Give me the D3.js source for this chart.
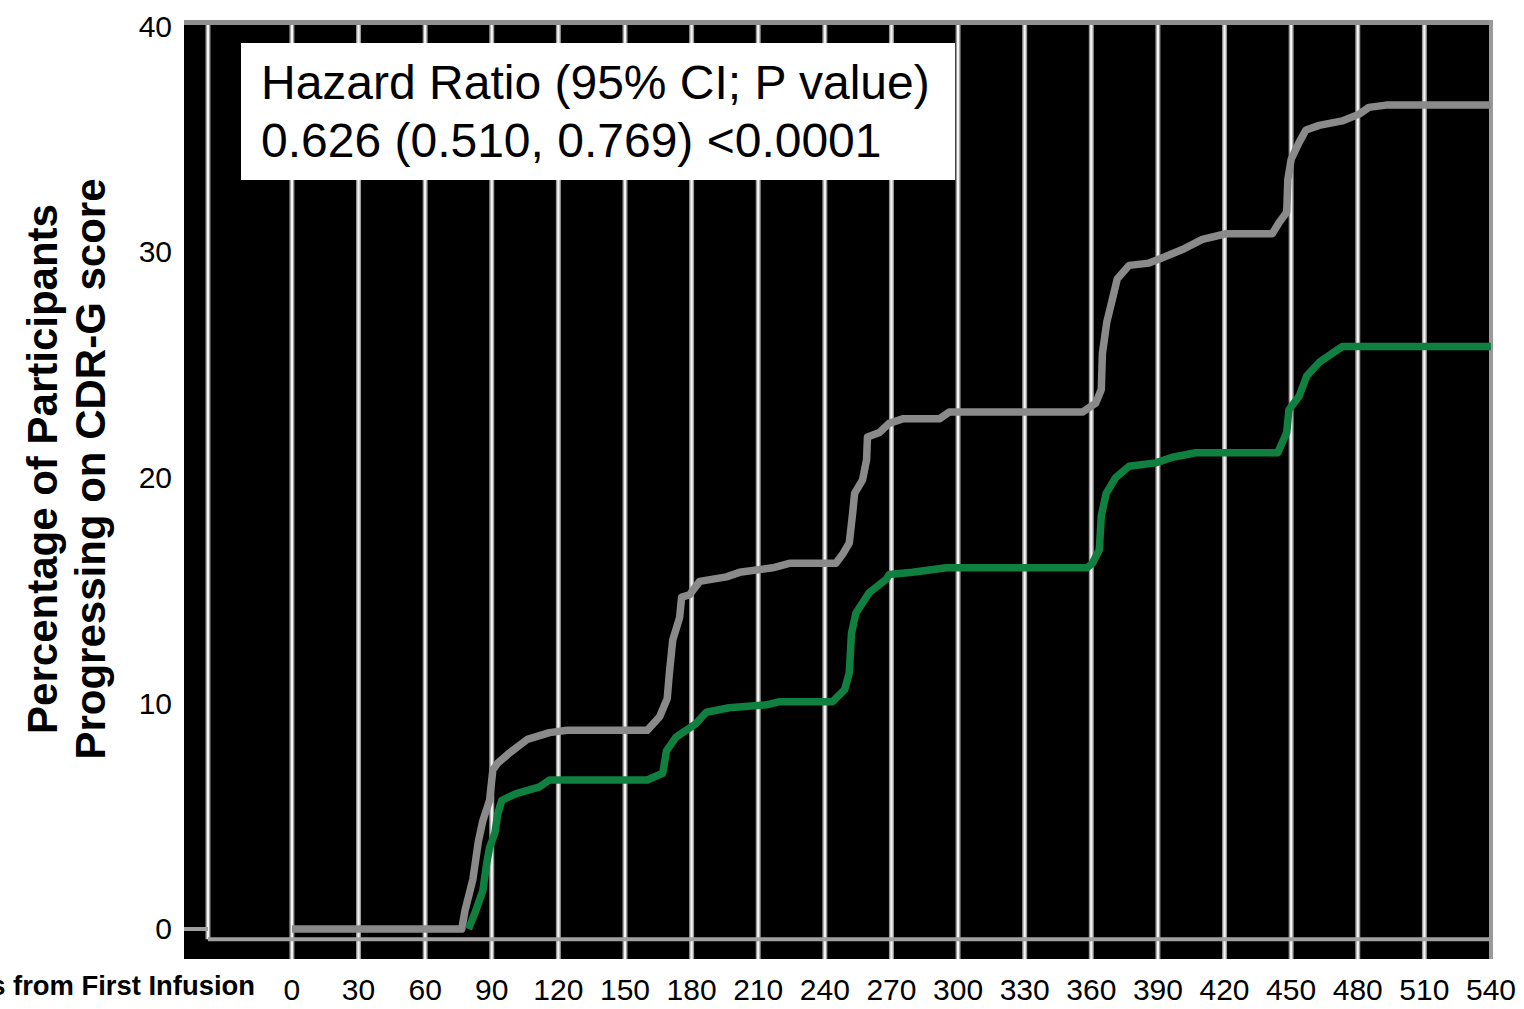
<!DOCTYPE html>
<html>
<head>
<meta charset="utf-8">
<script src="https://cdn.jsdelivr.net/npm/d3@7/dist/d3.min.js"></script>
<style>
  html, body { margin: 0; padding: 0; background: #fff; overflow: hidden; }
  svg { display: block; font-family: "Liberation Sans", Arial, sans-serif; }
</style>
</head>
<body>
<svg id="chart" width="1524" height="1009"></svg>
<script>
// Cumulative % progressing, placebo (grey) and treated (green)
const placeboDays = [0,76.5,78,81.5,84,86,89,90.5,92.7,98,106,116,124,160,165.6,169,170,171.5,174.6,175.5,179,183.6,195.7,201.6,216.5,224,245,248,251,252.5,253.4,257,258.8,259.2,264.6,269,275,291.6,296,356,362,364.5,365,367,369.5,371.7,377,386,393.7,401,410,420.7,441.5,444.6,448,448.5,450,453.6,456.7,462.6,473,480.6,485,492.7,540];
const placeboPct  = [0,0,0.84,2.2,3.9,4.8,5.7,7.05,7.35,7.8,8.4,8.7,8.8,8.8,9.4,10.2,11.35,12.8,13.8,14.7,14.8,15.4,15.6,15.8,16.0,16.2,16.2,16.6,17.1,18.4,19.3,19.9,20.8,21.8,22.0,22.4,22.6,22.6,22.9,22.9,23.3,23.9,25.5,26.9,27.9,28.8,29.4,29.5,29.8,30.1,30.55,30.8,30.8,31.3,31.75,33.2,34.1,34.85,35.4,35.6,35.8,36.1,36.4,36.5,36.5];

const treatedDays = [79.5,82.4,86,87.7,89,91.4,92.7,94.5,101,111.6,116,160,167,168.7,173,182,186.6,197,213.7,219.6,243.5,248.9,251,252,254,260,267.7,269,279.5,294.7,358,360.5,363.6,364.5,366.7,371,377,389,396.5,407,444,448,449,453.6,457,462.6,468.5,473,540];
const treatedPct  = [0,0.7,1.7,2.9,3.6,4.25,5.1,5.7,6.0,6.3,6.6,6.6,6.9,7.9,8.5,9.1,9.6,9.8,9.93,10.07,10.07,10.6,11.35,13.1,14.0,14.9,15.5,15.7,15.8,16.0,16.0,16.2,16.8,18.3,19.3,20.0,20.5,20.65,20.9,21.1,21.1,22.0,23.0,23.6,24.5,25.1,25.5,25.8,25.8];

const xTicks = [0,30,60,90,120,150,180,210,240,270,300,330,360,390,420,450,480,510,540];
const yTicks = [0,10,20,30,40];

const hazardLines = ["Hazard Ratio (95% CI; P value)", "0.626 (0.510, 0.769) <0.0001"];
const yTitleLines = ["Percentage of Participants", "Progressing on CDR-G score"];
const xTitle = "Days from First Infusion";

const svg = d3.select("#chart");

const xMin = -48.6, xMax = 540, yMin = -1.33, yMax = 40.27;
const x = d3.scaleLinear().domain([xMin, xMax]).range([184, 1491]);
const y = d3.scaleLinear().domain([yMin, yMax]).range([959, 20]);

// black panel
svg.append("rect")
  .attr("x", x(xMin)).attr("y", y(yMax))
  .attr("width", x(xMax) - x(xMin) + 1).attr("height", y(yMin) - y(yMax))
  .attr("fill", "#000");

// vertical grid lines: grey edge with light centre
const gridX = [-37.8].concat(xTicks.slice(0, -1));
const grid = svg.append("g");
gridX.forEach(d => {
  const yBottom = d < 0 ? y(-0.45) : y(yMin);
  grid.append("line").attr("x1", x(d)).attr("x2", x(d))
    .attr("y1", y(yMax)).attr("y2", yBottom)
    .attr("stroke", "#9a9a9a").attr("stroke-width", 5);
  grid.append("line").attr("x1", x(d)).attr("x2", x(d))
    .attr("y1", y(yMax)).attr("y2", yBottom)
    .attr("stroke", "#f4f4f4").attr("stroke-width", 2.2);
});

// inner axis frame
svg.append("line").attr("x1", x(-37.8)).attr("x2", x(xMax))
  .attr("y1", y(-0.45)).attr("y2", y(-0.45))
  .attr("stroke", "#a0a0a0").attr("stroke-width", 4);
svg.append("line").attr("x1", x(xMin)).attr("x2", x(-37.8))
  .attr("y1", y(0)).attr("y2", y(0))
  .attr("stroke", "#a0a0a0").attr("stroke-width", 4);

// outer border top and right
svg.append("line").attr("x1", x(xMin)).attr("x2", x(xMax) + 2)
  .attr("y1", y(yMax) + 2.5).attr("y2", y(yMax) + 2.5)
  .attr("stroke", "#8e8e8e").attr("stroke-width", 5);
svg.append("line").attr("x1", x(xMax)).attr("x2", x(xMax))
  .attr("y1", y(yMax)).attr("y2", y(yMin))
  .attr("stroke", "#9a9a9a").attr("stroke-width", 4);

// curves
const line = d3.line().x(d => x(d[0])).y(d => y(d[1]));
const placebo = placeboDays.map((d, i) => [d, placeboPct[i]]);
const treated = treatedDays.map((d, i) => [d, treatedPct[i]]);

svg.append("path").datum(placebo).attr("d", line)
  .attr("fill", "none").attr("stroke", "#8a8a8a").attr("stroke-width", 7.5)
  .attr("stroke-linejoin", "round");
svg.append("path").datum(treated).attr("d", line)
  .attr("fill", "none").attr("stroke", "#0f8040").attr("stroke-width", 7.5)
  .attr("stroke-linejoin", "round");

// hazard ratio box
svg.append("rect").attr("x", 241).attr("y", 43).attr("width", 714).attr("height", 137)
  .attr("fill", "#fff");
svg.append("g").selectAll("text").data(hazardLines).join("text")
  .attr("x", 261).attr("y", (d, i) => 99 + i * 58)
  .attr("font-size", 48).attr("fill", "#000").text(d => d);

// y tick labels
svg.append("g").selectAll("text").data(yTicks).join("text")
  .attr("x", 172).attr("y", d => y(d) + 10.5)
  .attr("text-anchor", "end").attr("font-size", 30).attr("fill", "#000")
  .text(d => d);

// x tick labels
svg.append("g").selectAll("text").data(xTicks).join("text")
  .attr("x", d => x(d)).attr("y", 1000)
  .attr("text-anchor", "middle").attr("font-size", 30).attr("fill", "#000")
  .text(d => d);

// x title (runs past the left edge of the page)
svg.append("text").attr("x", 255).attr("y", 995)
  .attr("text-anchor", "end").attr("font-size", 27.4).attr("font-weight", "bold")
  .text(xTitle);

// y title, two rotated lines
svg.append("g").attr("transform", "translate(0,469) rotate(-90)")
  .selectAll("text").data(yTitleLines).join("text")
  .attr("x", 0).attr("y", (d, i) => 57 + i * 48)
  .attr("text-anchor", "middle").attr("font-size", 42).attr("font-weight", "bold")
  .text(d => d);
</script>
</body>
</html>
